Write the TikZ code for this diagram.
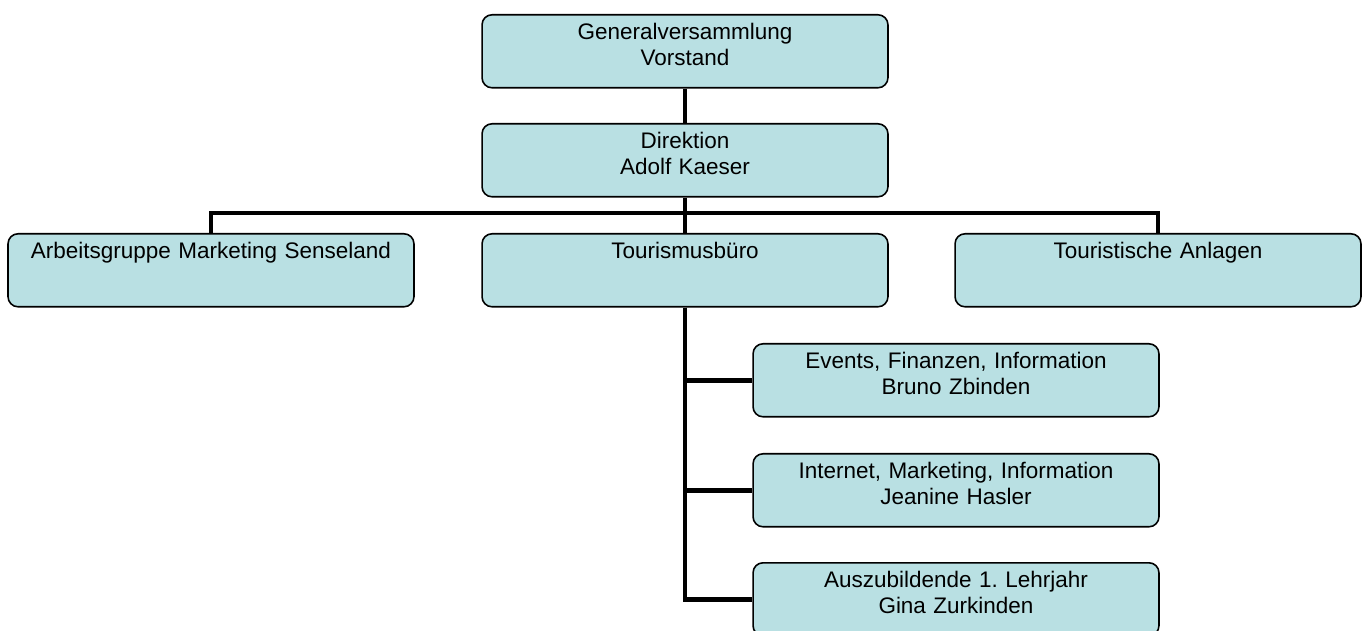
\documentclass[tikz,border=0pt]{standalone}
\usepackage{fontspec}
\setmainfont{Liberation Sans}
\frenchspacing
\definecolor{unitfill}{RGB}{185,224,227}
\tikzset{
  unit/.style={draw=black, line width=0.9pt, fill=unitfill, rounded corners=0.2cm,
    anchor=north, minimum width=8.12cm, text width=7.9cm, align=center,
    inner xsep=0.1cm, inner ysep=0pt, text height=0.5cm, text depth=0.96cm,
    font=\fontsize{12.8}{14.8}\selectfont},
  link/.style={black, line width=2.8pt}
}

\begin{document}
\begin{tikzpicture}[x=0.02cm,y=-0.02cm]
% Frame (1363x631)
\clip (0,0) rectangle (1363,631);
% Top levels
\node[unit] (gv) at (685,14) {Generalversammlung\\Vorstand};
\node[unit] (dir) at (685,123) {Direktion\\Adolf Kaeser};
% Departments
\node[unit] (ag) at (211,233) {Arbeitsgruppe Marketing Senseland};
\node[unit] (tb) at (685,233) {Tourismusb\"uro};
\node[unit] (ta) at (1158,233) {Touristische Anlagen};
% Staff of the Tourismusbuero
\node[unit] (ev) at (956,343) {Events, Finanzen, Information\\Bruno Zbinden};
\node[unit] (ih) at (956,453) {Internet, Marketing, Information\\Jeanine Hasler};
\node[unit] (az) at (956,562) {Auszubildende 1. Lehrjahr\\Gina Zurkinden};
% Lines
\coordinate (bus) at (685,213);
\draw[link] (gv) -- (dir);
\draw[link] (dir) -- (tb);
\draw[link] (ag.north) |- (bus) -| (ta.north);
\draw[link] (tb.south) |- (ev.west);
\draw[link] (tb.south) |- (ih.west);
\draw[link] (tb.south) |- (az.west);
\end{tikzpicture}
\end{document}
